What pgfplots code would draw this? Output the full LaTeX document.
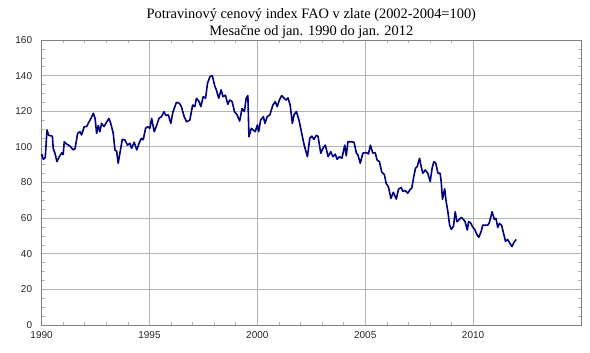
\documentclass[border=0pt]{standalone}
\usepackage{fontspec}
\setmainfont{Liberation Serif}
\newfontfamily\sansf{Liberation Sans}
\usepackage{pgfplots}
\pgfplotsset{compat=1.18}
\definecolor{navyline}{RGB}{0,0,128}
\definecolor{gridgray}{RGB}{179,179,179}
\definecolor{framegray}{RGB}{128,128,128}
\begin{document}
\begin{tikzpicture}
\begin{axis}[
  scale only axis,
  width=539.4pt, height=285pt,
  xmin=1990, xmax=2015, ymin=0, ymax=160,
  xtick={1990,1995,2000,2005,2010},
  ytick={0,20,40,60,80,100,120,140,160},
  minor x tick num=4, minor y tick num=3,
  xmajorgrids, ymajorgrids,
  major grid style={gridgray, line width=0.8pt},
  axis line style={framegray, line width=0.8pt},
  major tick length=0pt,
  minor tick length=3pt,
  minor tick style={gridgray, line width=0.6pt},
  tick align=inside,
  xticklabel style={font=\fontsize{10}{12}\sansf, text=black!85, yshift=-3pt},
  yticklabel style={font=\fontsize{10}{12}\sansf, text=black!85, xshift=-6pt},
  /pgf/number format/assume math mode=true,
  /pgf/number format/1000 sep={},
  title style={font=\fontsize{14.4}{17}\selectfont, align=center, yshift=-8.5pt},
  title={Potravinový cenový index FAO v zlate (2002-2004=100)\\Mesačne od jan. 1990 do jan. 2012},
  clip=false,
]
\addplot[navyline, line width=1.6pt, line join=round] coordinates {
(1990.00,96) (1990.08,93) (1990.17,94) (1990.25,109.5) (1990.33,106.5) (1990.50,106)
(1990.54,99) (1990.62,96.4) (1990.71,91.7) (1990.82,94.5) (1990.94,96.7) (1991.00,95.7)
(1991.05,102.9) (1991.16,101.6) (1991.31,100.5) (1991.47,98.3) (1991.55,99) (1991.67,107.6)
(1991.78,108.5) (1991.85,106.7) (1991.98,111.4) (1992.09,111.4) (1992.16,113.2) (1992.29,116)
(1992.40,118.9) (1992.48,116) (1992.55,107.6) (1992.63,112) (1992.70,108.5) (1992.78,113.2)
(1992.89,111.4) (1992.98,113.2) (1993.12,116) (1993.21,113) (1993.32,107.6) (1993.40,98.3)
(1993.48,97.4) (1993.55,90.8) (1993.63,96.4) (1993.74,104.2) (1993.86,103.9) (1993.98,101)
(1994.09,102) (1994.17,99.2) (1994.29,102.6) (1994.41,98.3) (1994.55,103) (1994.63,104.8)
(1994.71,104) (1994.82,110.4) (1994.91,111.3) (1995.02,110.4) (1995.10,116) (1995.22,108.5)
(1995.33,112) (1995.44,116) (1995.56,117) (1995.67,119.7) (1995.76,117.6) (1995.87,118)
(1995.99,113.2) (1996.09,119.7) (1996.25,125) (1996.38,124.5) (1996.48,122.6) (1996.61,116.9)
(1996.72,114.1) (1996.87,115) (1997.00,123.5) (1997.10,122.6) (1997.18,127.3) (1997.29,125.6)
(1997.38,122.6) (1997.49,128.2) (1997.60,127.3) (1997.69,135.7) (1997.80,139.4) (1997.91,140)
(1998.03,134) (1998.10,132) (1998.21,127.3) (1998.32,132) (1998.41,128.2) (1998.52,129)
(1998.63,123.9) (1998.72,126.3) (1998.83,125.4) (1998.94,119.8) (1999.06,118) (1999.18,114.5)
(1999.29,121.5) (1999.40,119.8) (1999.48,127.3) (1999.56,128.8) (1999.61,105.7) (1999.72,110.4)
(1999.81,109.5) (1999.90,108.5) (2000.00,112.3) (2000.06,108.5) (2000.15,115) (2000.28,117)
(2000.35,113.2) (2000.46,117) (2000.58,118) (2000.72,123.5) (2000.83,125.4) (2000.92,122.6)
(2001.02,126.3) (2001.13,128.8) (2001.24,127.3) (2001.33,126.3) (2001.42,127.5) (2001.52,123.5)
(2001.62,113.2) (2001.70,118) (2001.81,119.8) (2001.93,115) (2002.04,108.5) (2002.17,101)
(2002.32,94.5) (2002.43,104.8) (2002.53,106) (2002.62,104.2) (2002.73,106.5) (2002.81,106)
(2002.94,96.4) (2003.04,99.2) (2003.15,101) (2003.28,94.5) (2003.40,97.3) (2003.50,94.5)
(2003.61,95.9) (2003.70,93) (2003.81,94.5) (2003.92,93.6) (2004.05,101) (2004.12,95)
(2004.20,102.9) (2004.35,102.9) (2004.48,102.6) (2004.59,96.5) (2004.66,95.5) (2004.77,90.8)
(2004.89,96.5) (2005.05,96.8) (2005.15,96) (2005.24,101) (2005.35,96.5) (2005.46,96.8)
(2005.55,92.6) (2005.66,91.7) (2005.76,86) (2005.89,84.3) (2005.97,79.5) (2006.07,77.7)
(2006.19,71.1) (2006.30,74.5) (2006.44,70.7) (2006.54,76.2) (2006.67,77.2) (2006.74,75)
(2006.85,75.5) (2006.97,74) (2007.08,76) (2007.16,77) (2007.25,83.3) (2007.33,88)
(2007.41,89) (2007.52,93.6) (2007.59,89) (2007.67,85.2) (2007.78,87) (2007.90,85.2)
(2008.01,80.5) (2008.10,88) (2008.18,91.7) (2008.27,90.8) (2008.37,85.2) (2008.47,85.2)
(2008.52,80.5) (2008.58,70.6) (2008.68,76.4) (2008.75,69.3) (2008.83,63.6) (2008.91,56.1)
(2008.99,53.7) (2009.09,55.5) (2009.17,63.6) (2009.25,58) (2009.34,59) (2009.45,60.4)
(2009.54,59.4) (2009.63,58) (2009.73,53.3) (2009.79,58) (2009.88,57.4) (2009.99,54.8)
(2010.07,53.7) (2010.19,50.5) (2010.26,49.2) (2010.37,52.4) (2010.45,56.1) (2010.56,56)
(2010.68,56.1) (2010.75,57.4) (2010.88,63.6) (2010.98,59.4) (2011.06,59.8) (2011.14,54.8)
(2011.22,57) (2011.32,56) (2011.40,52) (2011.50,47) (2011.60,48) (2011.70,46)
(2011.80,44) (2011.90,46.5) (2012.00,48)
};
\end{axis}
\pgfresetboundingbox
\path[use as bounding box] ([xshift=-41.6pt,yshift=-28pt]current axis.south west) rectangle ([xshift=9pt,yshift=40pt]current axis.north east);
\end{tikzpicture}
\end{document}
